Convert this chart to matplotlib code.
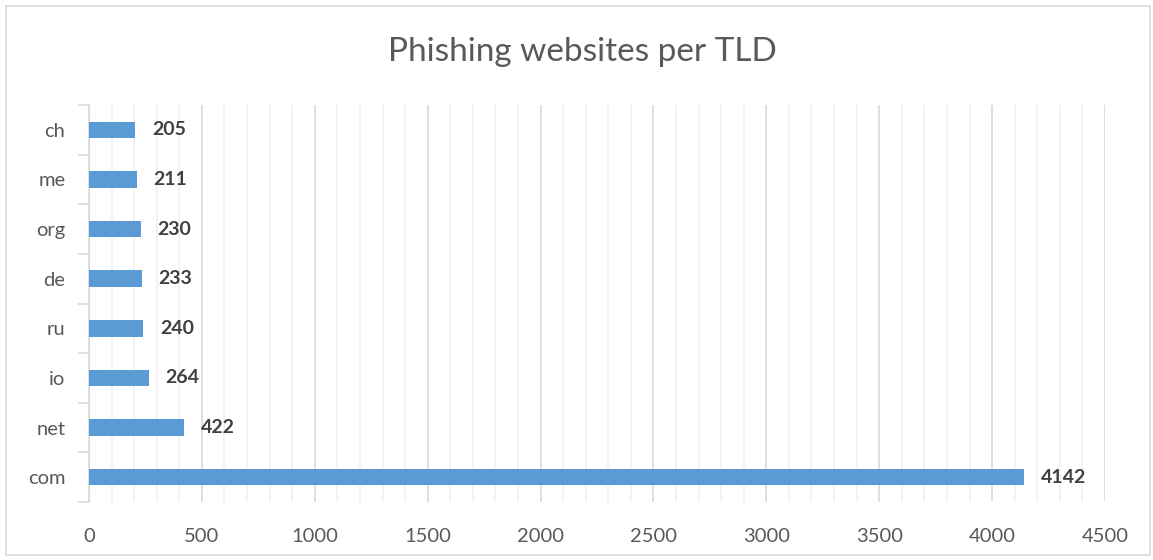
import numpy as np
import matplotlib.pyplot as plt
from matplotlib.patches import Rectangle

# data
tlds = ['com', 'net', 'io', 'ru', 'de', 'org', 'me', 'ch']
counts = [4142, 422, 264, 240, 233, 230, 211, 205]

bar_color = '#5B9BD5'
text_color = '#595959'
label_color = '#404040'

plt.rcParams['font.family'] = ['Lato', 'DejaVu Sans']

fig = plt.figure(figsize=(11.53, 5.6), dpi=100)
ax = fig.add_axes([89 / 1153, 58 / 560, (1105 - 89) / 1153, 397 / 560])

y = np.arange(len(tlds))
ax.barh(y, counts, height=0.33, color=bar_color, zorder=3)

# value labels
for yi, c in zip(y, counts):
    ax.annotate(f'{c}', (c, yi), xytext=(12, 0), textcoords='offset points',
                ha='left', va='center', fontsize=14, fontweight='bold',
                color=label_color)

ax.set_xlim(0, 4500)
ax.set_ylim(-0.5, len(tlds) - 0.5)

ax.set_xticks(np.arange(0, 4501, 500))
ax.set_xticks(np.arange(0, 4501, 100), minor=True)
ax.grid(axis='x', which='major', color='#D9D9D9', lw=1.2, zorder=0)
ax.grid(axis='x', which='minor', color='#F0F0F0', lw=1.2, zorder=0)

# category labels centred, ticks at category boundaries
ax.set_yticks(y)
ax.set_yticklabels(tlds)
ax.set_yticks(np.arange(-0.5, len(tlds), 1), minor=True)
ax.tick_params(axis='y', which='major', length=0, pad=17, labelsize=14.5,
               labelcolor=text_color)
ax.tick_params(axis='y', which='minor', length=8, width=1.2, color='#D9D9D9')
ax.tick_params(axis='x', which='both', length=0, pad=19, labelsize=14.5,
               labelcolor=text_color)

for s in ['top', 'right', 'bottom']:
    ax.spines[s].set_visible(False)
ax.spines['left'].set_color('#D9D9D9')
ax.spines['left'].set_linewidth(1.2)

fig.text(0.505, 0.907, 'Phishing websites per TLD', ha='center', va='center',
         fontsize=24, color=text_color)

# chart area border
fig.patches.append(Rectangle((6 / 1153, 5 / 560), 1144 / 1153, 549 / 560,
                             transform=fig.transFigure, fill=False,
                             edgecolor='#D9D9D9', lw=1.2))

fig.savefig('out.png', dpi=100)
